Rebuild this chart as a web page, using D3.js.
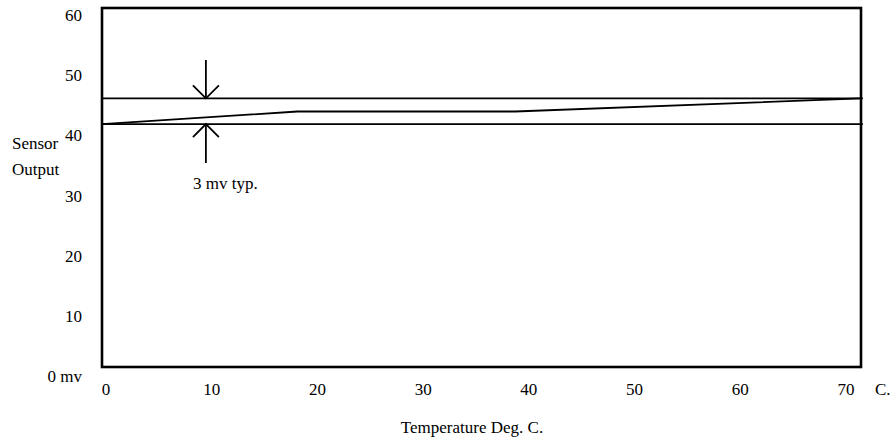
<!DOCTYPE html>
<html>
<head>
<meta charset="utf-8">
<script src="https://cdn.jsdelivr.net/npm/d3@7"></script>
<style>
  body { margin: 0; background: #fff; }
</style>
</head>
<body>
<div id="chart"></div>
<script>
// tick labels
const yTicks = [0, 10, 20, 30, 40, 50, 60];
const xTicks = [0, 10, 20, 30, 40, 50, 60, 70];

// sensor output bands (mv) vs temperature (deg C)
const upperTemp = [-0.4, 71.6];
const upperVal = [44.9, 44.9];
const lowerTemp = [-0.4, 71.6];
const lowerVal = [40.6, 40.6];
const midTemp = [-0.4, 18.1, 38.7, 71.4];
const midVal = [40.6, 42.7, 42.7, 44.9];

// the "3 mv typ." dimension marker
const markTemp = 9.45;
const markTopVal = 51.3;
const markBottomVal = 34.1;

const width = 893, height = 439;
const box = { left: 102, right: 861, top: 8, bottom: 367 };

const svg = d3.select("#chart")
  .append("svg")
  .attr("width", width)
  .attr("height", height)
  .attr("font-family", "'Liberation Serif', 'DejaVu Serif', 'Times New Roman', serif")
  .attr("font-size", 17);

const x = d3.scaleLinear().domain([0, 70]).range([106, 846]);
const y = d3.scaleLinear().domain([0, 60]).range([box.bottom, box.top]);
// label positions in the original sit a bit off the frame scale
const yLab = d3.scaleLinear().domain([0, 60]).range([382, 21]);

// frame
svg.append("rect")
  .attr("x", box.left)
  .attr("y", box.top)
  .attr("width", box.right - box.left)
  .attr("height", box.bottom - box.top)
  .attr("fill", "none")
  .attr("stroke", "#000")
  .attr("stroke-width", 2.6);

const line = d3.line().x(d => x(d[0])).y(d => y(d[1]));

const series = [
  d3.zip(upperTemp, upperVal),
  d3.zip(lowerTemp, lowerVal),
  d3.zip(midTemp, midVal)
];

svg.append("g")
  .selectAll("path")
  .data(series)
  .join("path")
  .attr("d", line)
  .attr("fill", "none")
  .attr("stroke", "#000")
  .attr("stroke-width", 1.8);

// y tick labels
svg.append("g")
  .selectAll("text")
  .data(yTicks)
  .join("text")
  .attr("x", 82)
  .attr("y", d => yLab(d))
  .attr("text-anchor", "end")
  .text(d => d === 0 ? "0 mv" : d);

// x tick labels
svg.append("g")
  .selectAll("text")
  .data(xTicks)
  .join("text")
  .attr("x", d => x(d))
  .attr("y", 395)
  .attr("text-anchor", "middle")
  .text(d => d);

svg.append("text")
  .attr("x", 875)
  .attr("y", 395)
  .text("C.");

// axis titles
svg.append("text").attr("x", 12).attr("y", 149).text("Sensor");
svg.append("text").attr("x", 12).attr("y", 175).text("Output");

svg.append("text")
  .attr("x", 472)
  .attr("y", 433)
  .attr("text-anchor", "middle")
  .text("Temperature Deg. C.");

// dimension arrows
const ax = x(markTemp);
const head = 13;
const arrows = svg.append("g")
  .attr("stroke", "#000")
  .attr("stroke-width", 1.8)
  .attr("fill", "none");

const topTip = y(upperVal[0]);
const botTip = y(lowerVal[0]);

arrows.append("line")
  .attr("x1", ax).attr("x2", ax)
  .attr("y1", y(markTopVal)).attr("y2", topTip);
arrows.append("path")
  .attr("d", `M${ax - head},${topTip - head}L${ax},${topTip}L${ax + head},${topTip - head}`);

arrows.append("line")
  .attr("x1", ax).attr("x2", ax)
  .attr("y1", botTip).attr("y2", y(markBottomVal));
arrows.append("path")
  .attr("d", `M${ax - head},${botTip + head}L${ax},${botTip}L${ax + head},${botTip + head}`);

svg.append("text")
  .attr("x", 193)
  .attr("y", 189)
  .text("3 mv typ.");
</script>
</body>
</html>
